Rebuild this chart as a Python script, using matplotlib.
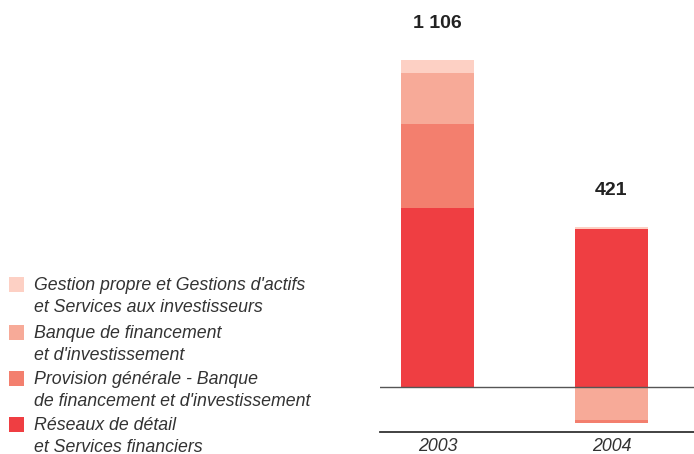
import matplotlib
matplotlib.use("Agg")
import matplotlib.pyplot as plt
from matplotlib.patches import Rectangle

plt.rcParams['font.family'] = ['Liberation Sans', 'DejaVu Sans']

years = ["2003", "2004"]
segments = [
    "Réseaux de détail\net Services financiers",
    "Provision générale - Banque\nde financement et d'investissement",
    "Banque de financement\net d'investissement",
    "Gestion propre et Gestions d'actifs\net Services aux investisseurs",
]
# values per segment, one entry per year
reseaux = [605, 535]
provision = [285, -10]
banque = [172, -110]
gestion = [44, 6]
totals = [1106, 421]
total_labels = ["1 106", "421"]

colors = ["#EF3E42", "#F37F6E", "#F7AA98", "#FDD0C4"]
series = [reseaux, provision, banque, gestion]

fig = plt.figure(figsize=(6.94, 4.54), dpi=100)
ax = fig.add_axes([380 / 694, 22 / 454, 314 / 694, 432 / 454])

x = [0, 1]
width = 0.42
pos_bottom = [0.0, 0.0]
neg_bottom = [0.0, 0.0]
# positive parts stack upward from the bottom segment
for vals, col in zip(series, colors):
    for i, v in enumerate(vals):
        if v >= 0:
            ax.bar(x[i], v, width, bottom=pos_bottom[i], color=col, linewidth=0)
            pos_bottom[i] += v
# negative parts stack downward, investment banking closest to zero
for vals, col in [(banque, colors[2]), (provision, colors[1])]:
    for i, v in enumerate(vals):
        if v < 0:
            ax.bar(x[i], v, width, bottom=neg_bottom[i], color=col, linewidth=0)
            neg_bottom[i] += v

for i, lab in enumerate(total_labels):
    ax.text(x[i], pos_bottom[i] + 95, lab, ha="center", va="bottom",
            fontsize=14, fontweight="bold", color="#222222")

ax.set_xlim(-0.33, 1.474)
ax.set_ylim(-152, 1309)
ax.axhline(0, color="#555555", lw=1.0)
for s in ["top", "right", "left"]:
    ax.spines[s].set_visible(False)
ax.spines["bottom"].set_color("#333333")
ax.spines["bottom"].set_linewidth(1.3)
ax.set_yticks([])
ax.set_xticks(x)
ax.set_xticklabels(years, fontstyle="italic", fontsize=12.8, color="#333333")
ax.tick_params(axis="x", length=0, pad=4)

# legend drawn in figure pixels
H = 454
legend_items = list(zip(segments[::-1], colors[::-1]))
tops = [277, 325, 371, 417]
for (label, col), top in zip(legend_items, tops):
    fig.patches.append(Rectangle((9 / 694, (H - top - 15) / H), 15 / 694, 15 / H,
                                 transform=fig.transFigure, color=col, lw=0))
    l1, l2 = label.split("\n")
    fig.text(34 / 694, (H - top - 8) / H, l1, fontstyle="italic", fontsize=12.8,
             color="#333333", va="center")
    fig.text(34 / 694, (H - top - 30) / H, l2, fontstyle="italic", fontsize=12.8,
             color="#333333", va="center")

fig.savefig("out.png", dpi=100)
